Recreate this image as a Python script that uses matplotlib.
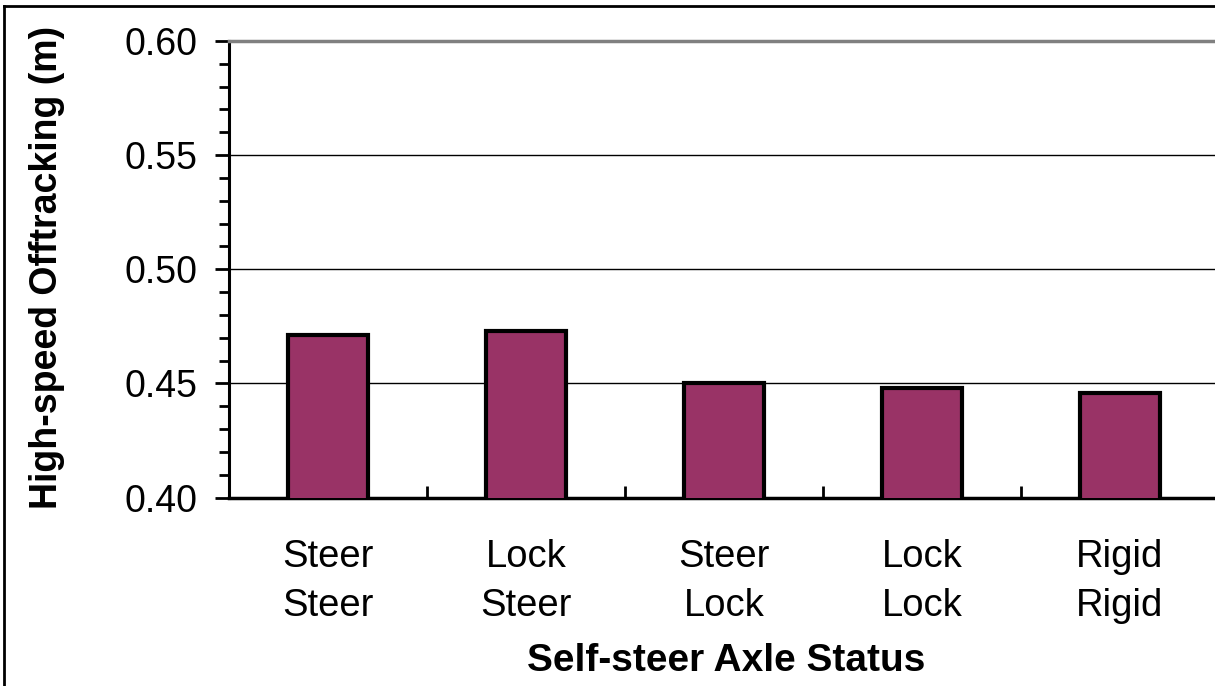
import matplotlib
matplotlib.use("Agg")
import matplotlib.pyplot as plt
from matplotlib.lines import Line2D
from matplotlib.ticker import MultipleLocator, FixedLocator
import numpy as np

plt.rcParams['font.family'] = ['Liberation Sans', 'DejaVu Sans']

categories = ["Steer\nSteer", "Lock\nSteer", "Steer\nLock", "Lock\nLock", "Rigid\nRigid"]
values = [0.471, 0.473, 0.450, 0.448, 0.446]
y_ticks = [0.40, 0.45, 0.50, 0.55, 0.60]

fig = plt.figure(figsize=(12.15, 6.86), dpi=100)
ax = fig.add_axes([229/1215, 188.5/686, 990/1215, 456.5/686])

x = np.arange(len(categories)) + 0.5
ax.bar(x, values, width=0.4, color='#993366', edgecolor='black', linewidth=3, zorder=3)

ax.set_xlim(0, len(categories))
ax.set_ylim(0.40, 0.60)
ax.set_yticks(y_ticks)
ax.set_yticklabels([f"{v:.2f}" for v in y_ticks])
ax.yaxis.set_minor_locator(MultipleLocator(0.01))
ax.set_xticks(x)
ax.set_xticklabels(categories, linespacing=1.45)
ax.xaxis.set_minor_locator(FixedLocator(np.arange(1, len(categories))))

ax.tick_params(axis='y', which='major', direction='out', length=10, width=2, labelsize=27, pad=13)
ax.tick_params(axis='y', which='minor', direction='out', length=7, width=2)
ax.tick_params(axis='x', which='major', length=0, labelsize=27.5, pad=30)
ax.tick_params(axis='x', which='minor', direction='in', length=9, width=2)

for yv in y_ticks[1:-1]:
    ax.axhline(yv, color='black', linewidth=1, zorder=1)

ax.spines['left'].set_linewidth(2.2)
ax.spines['bottom'].set_linewidth(2.5)
ax.spines['top'].set_color('#808080')
ax.spines['top'].set_linewidth(2.5)
ax.spines['right'].set_visible(False)

ax.set_xlabel("Self-steer Axle Status", fontsize=28, fontweight='bold')
ax.xaxis.set_label_coords(0.5025, -0.318)
ax.set_ylabel("High-speed Offtracking (m)", fontsize=27, fontweight='bold')
ax.yaxis.set_label_coords(-0.1657, 0.503)

# figure border (top and left visible)
fig.add_artist(Line2D([4/1215, 4/1215], [0, 1 - 6/686], transform=fig.transFigure, color='black', linewidth=2))
fig.add_artist(Line2D([4/1215, 1], [1 - 6/686, 1 - 6/686], transform=fig.transFigure, color='black', linewidth=2))

fig.savefig("out.png", dpi=100)
